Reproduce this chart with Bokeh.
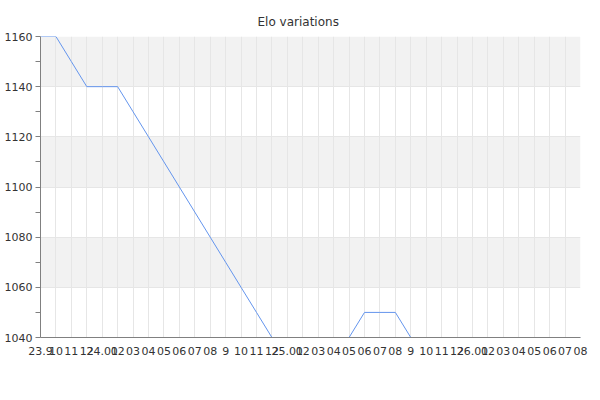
from bokeh.plotting import figure
from bokeh.models import FixedTicker, Range1d
from bokeh.embed import file_html
from bokeh.resources import INLINE

# month labels on the x axis (YY.M at year change)
months = ["23.9", "10", "11", "12",
          "24.01", "02", "03", "04", "05", "06", "07", "08", "9", "10", "11", "12",
          "25.01", "02", "03", "04", "05", "06", "07", "08", "9", "10", "11", "12",
          "26.01", "02", "03", "04", "05", "06", "07", "08"]
elo = [1160, 1160, 1150, 1140, 1140, 1140, 1130, 1120, 1110, 1100, 1090, 1080,
       1070, 1060, 1050, 1040, 1040, 1040, 1040, 1040, 1040, 1050, 1050, 1050,
       1040, 1040, 1040, 1040, 1040, 1040, 1040, 1040, 1040, 1040, 1040, 1040]
y_ticks = [1040, 1060, 1080, 1100, 1120, 1140, 1160]
y_minor = [1050, 1070, 1090, 1110, 1130, 1150]

xs = list(range(len(months)))

p = figure(width=600, height=400, output_backend="svg", toolbar_location=None,
           tools="", title="Elo variations",
           x_range=Range1d(0, len(months) - 1), y_range=Range1d(y_ticks[0], y_ticks[-1]),
           min_border_left=40, min_border_right=20, min_border_top=36, min_border_bottom=63)
p.outline_line_color = None
p.background_fill_color = "white"

p.title.align = "left"
p.title.offset = 217
p.title.standoff = 16
p.title.text_font = "DejaVu Sans"
p.title.text_font_size = "12px"
p.title.text_font_style = "normal"
p.title.text_color = "#333333"

p.line(xs, elo, line_color="#6495ed", line_width=1)

# x axis
p.xaxis.ticker = FixedTicker(ticks=xs)
p.xaxis.major_label_overrides = {i: m for i, m in enumerate(months)}
p.xaxis.major_tick_out = 0
p.xaxis.major_tick_in = 0
p.xaxis.minor_tick_out = 0
p.xaxis.minor_tick_in = 0
p.xaxis.major_label_standoff = 9

# y axis
p.yaxis.ticker = FixedTicker(ticks=y_ticks, minor_ticks=y_minor)
p.yaxis.major_tick_out = 5
p.yaxis.major_tick_in = 0
p.yaxis.minor_tick_out = 5
p.yaxis.minor_tick_in = 0
p.yaxis.major_label_standoff = 3

for ax in (p.xaxis, p.yaxis):
    ax.axis_line_color = "#808080"
    ax.major_tick_line_color = "#808080"
    ax.minor_tick_line_color = "#808080"
    ax.major_label_text_font = "DejaVu Sans"
    ax.major_label_text_font_size = "11px"
    ax.major_label_text_color = "#333333"

p.xgrid.grid_line_color = "#e6e6e6"
p.ygrid.grid_line_color = "#e6e6e6"
p.ygrid.band_fill_color = "#f2f2f2"
p.ygrid.band_fill_alpha = 1.0
p.ygrid.level = "image"  # bands under the vertical grid lines

open("out.html", "w").write(file_html(p, INLINE))
